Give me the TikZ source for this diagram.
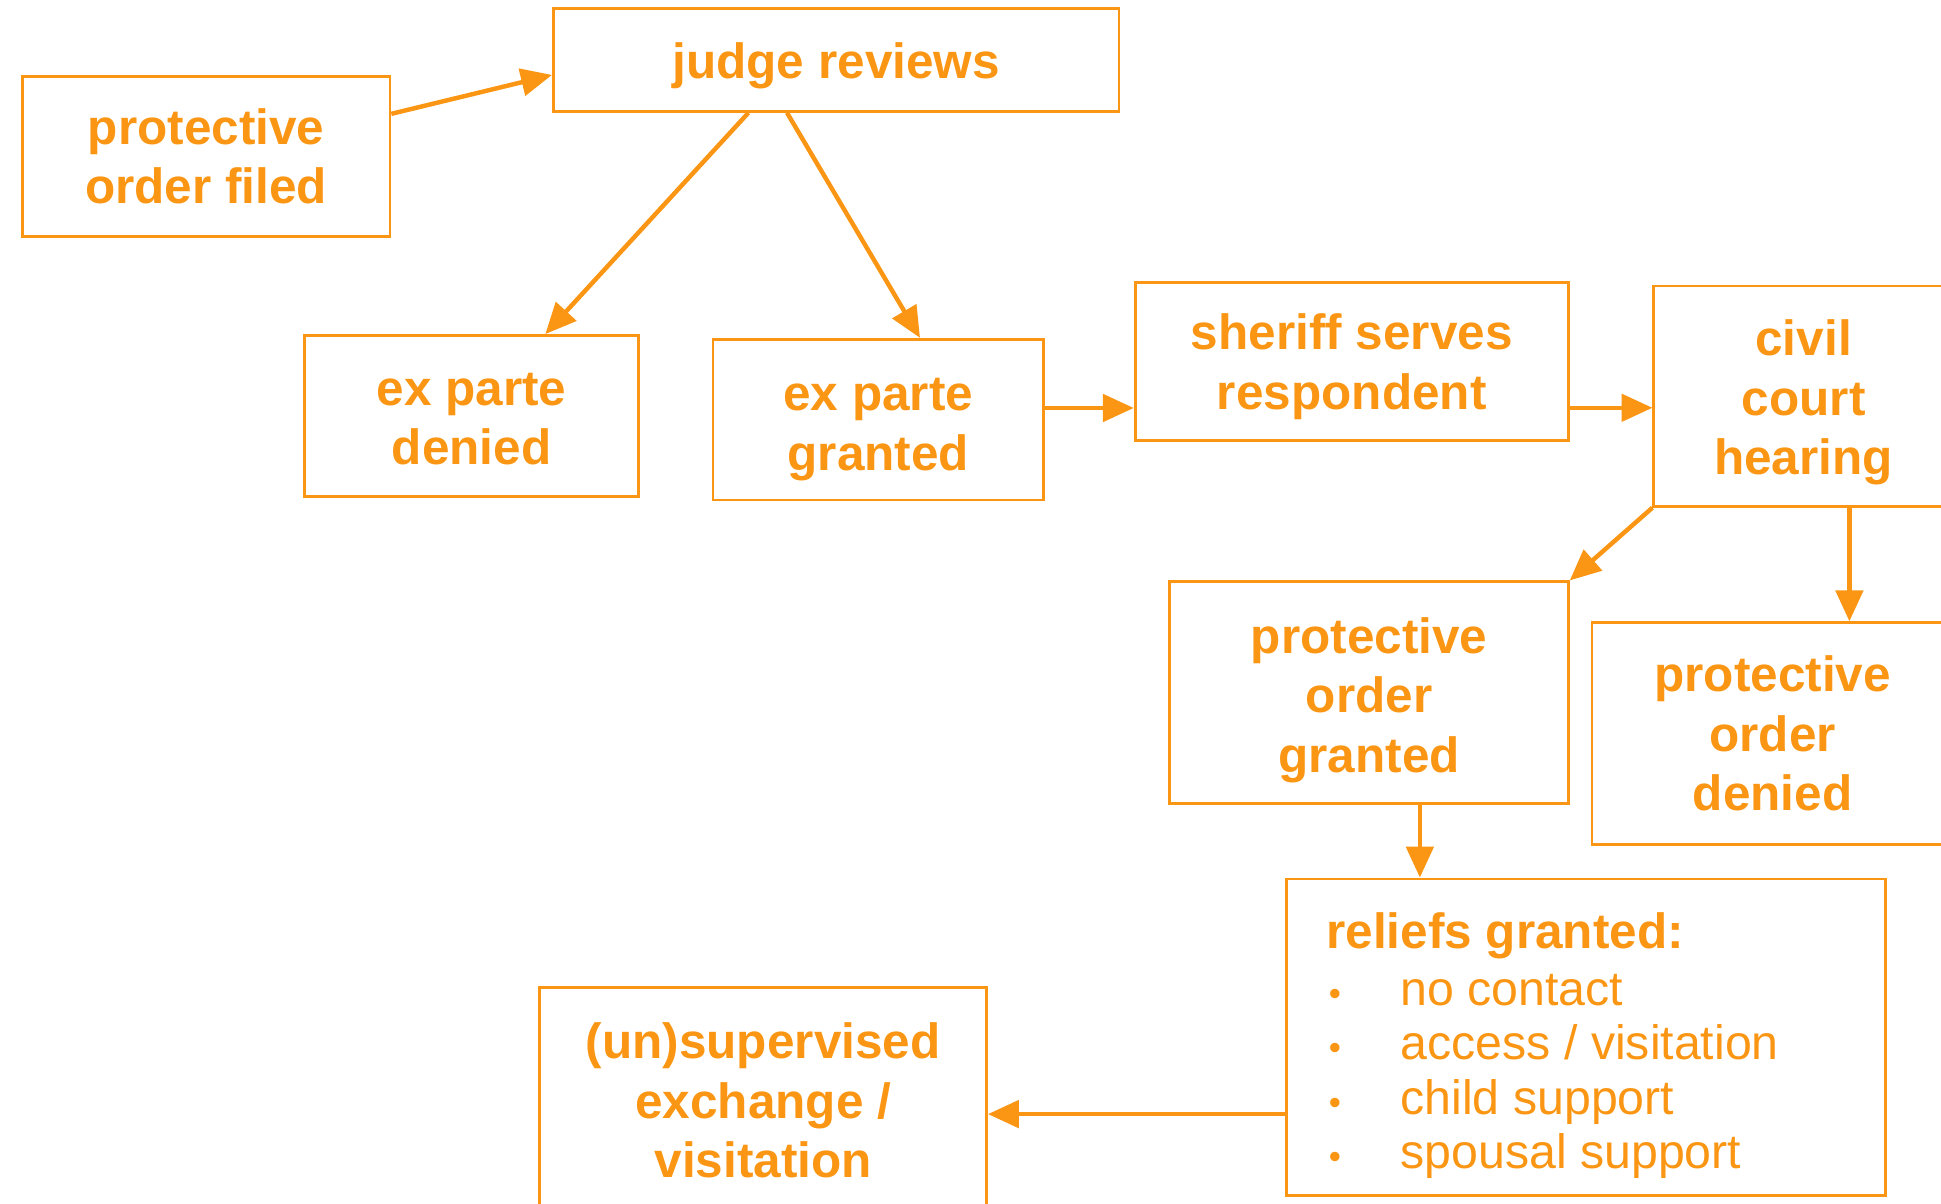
\documentclass[tikz,border=0pt]{standalone}
\usepackage{fontspec}
\setmainfont{Liberation Sans}
\usetikzlibrary{arrows.meta}
\definecolor{po}{RGB}{250,150,20}
\newcommand{\relitem}[1]{\makebox[30pt][l]{\hspace{1pt}{\fontsize{14}{14}\selectfont\textbullet}}#1}
\begin{document}
\begin{tikzpicture}[x=0.5pt,y=-0.5pt,
  box/.style={draw=po, line width=1.1pt, rectangle, inner sep=0pt},
  lbl/.style={text=po, align=center, inner sep=0pt, font=\fontsize{20}{24}\selectfont\bfseries},
  flow/.style={draw=po, line width=1.8pt, -{Triangle[length=12.5pt,width=11pt]}}]
\useasboundingbox (0,0) rectangle (1568,972);
\clip (0,0) rectangle (1568,972);

% process boxes (text set as a centred label, nudged to sit on its lines)
\node[box, minimum width=148.5pt, minimum height=64.5pt,
  label={[lbl]center:{protective\\order filed}}] (filed) at (166.5,126.5) {};
\node[box, minimum width=228.5pt, minimum height=41.5pt,
  label={[lbl, yshift=-2.5pt]center:{judge reviews}}] (judge) at (675.5,48.5) {};
\node[box, minimum width=135pt, minimum height=65pt,
  label={[lbl, yshift=-1.2pt]center:{ex parte\\denied}}] (epdenied) at (381,336) {};
\node[box, minimum width=133.5pt, minimum height=65pt,
  label={[lbl, yshift=-4pt]center:{ex parte\\granted}}] (epgranted) at (709.5,339) {};
\node[box, minimum width=175pt, minimum height=64pt,
  label={[lbl, yshift=-2.2pt]center:{sheriff serves\\respondent}}] (sheriff) at (1092,292) {};
\node[box, minimum width=121pt, minimum height=89pt,
  label={[lbl, yshift=-2.5pt]center:{civil\\court\\hearing}}] (civil) at (1457,320) {};
\node[box, minimum width=161pt, minimum height=89.5pt,
  label={[lbl, yshift=-3pt]center:{protective\\order\\granted}}] (pog) at (1106,559.5) {};
\node[box, minimum width=146pt, minimum height=89.5pt,
  label={[lbl]center:{protective\\order\\denied}}] (pod) at (1432,592.5) {};
\node[box, minimum width=242pt, minimum height=128pt] (reli) at (1281,838) {};
\node[anchor=base west, inner sep=0pt, text=po, font=\fontsize{19.5}{22}\selectfont] (relitext) at (1071,766)
  {\begin{tabular}[t]{@{}l@{}}
   {\fontsize{20}{22}\selectfont\bfseries reliefs granted:}\\[1pt]
   \relitem{no contact}\\
   \relitem{access / visitation}\\
   \relitem{child support}\\
   \relitem{spousal support}
   \end{tabular}};
\node[box, minimum width=180.5pt, minimum height=91pt,
  label={[lbl]center:{(un)supervised\\exchange /\\visitation}}] (unsup) at (616.5,889) {};

% connectors
\draw[flow] (filed.13) -- (judge.183.6);
\draw[flow] (judge.211.2) -- (epdenied.48.7);
\draw[flow] (judge.227.1) -- (epgranted.63.4);
\draw[flow] (epgranted.4) -- (epgranted.4 -| sheriff.west);
\draw[flow] (sheriff.-12.25) -- (sheriff.-12.25 -| civil.west);
\draw[flow] (civil.south west) -- (pog.north east);
\draw[flow] ([xshift=31pt]pod.north |- civil.south) -- ([xshift=31pt]pod.north);
\draw[flow] ([xshift=20.5pt]pog.south) -- ([xshift=20.5pt]pog.south |- reli.north);
\draw[flow] ([yshift=-31pt]reli.west) -- ([yshift=-31pt]reli.west -| unsup.east);
\end{tikzpicture}
\end{document}
